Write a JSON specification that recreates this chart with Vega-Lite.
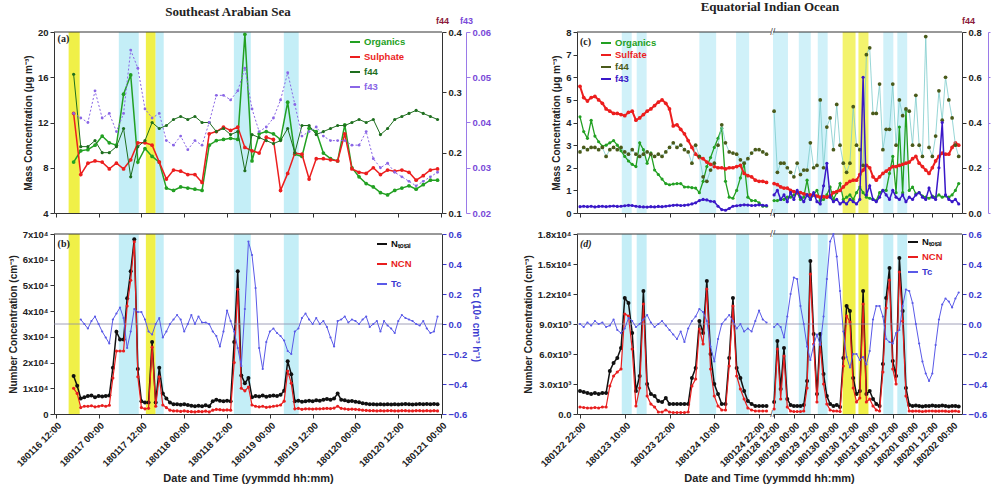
{
"$schema": "https://vega.github.io/schema/vega-lite/v6.json",
"padding": {"left": 8, "top": 1, "right": 0, "bottom": 0},
"config": {
  "font": "Liberation Sans",
  "view": {"stroke": null},
  "axis": {"grid": false, "labelFontSize": 9.5, "labelFontWeight": "bold", "labelColor": "#222", "titleFontSize": 10, "titleFontWeight": "bold", "titleColor": "#222", "domainColor": "#333", "tickColor": "#333", "tickSize": 4, "labelPadding": 2, "titlePadding": 4, "labelOverlap": false},
  "legend": {"labelFontSize": 9.5, "labelFontWeight": "bold", "symbolType": "stroke", "symbolStrokeWidth": 2, "symbolSize": 100, "padding": 0, "labelLimit": 200, "labelOffset": 3, "title": null},
  "title": {"font": "Liberation Serif", "fontSize": 13, "fontWeight": "bold", "color": "#222", "offset": -3}
},
"datasets": {
"bandsA": [
{"a":"2018-01-16T15:36","b":"2018-01-16T18:42","k":"y"},
{"a":"2018-01-17T05:40","b":"2018-01-17T11:15","k":"c"},
{"a":"2018-01-17T13:15","b":"2018-01-17T16:00","k":"y"},
{"a":"2018-01-17T16:00","b":"2018-01-17T18:15","k":"c"},
{"a":"2018-01-18T13:55","b":"2018-01-18T18:40","k":"c"},
{"a":"2018-01-19T03:55","b":"2018-01-19T08:05","k":"c"}],
"bandsCL": [
{"a":"2018-01-23T09:12","b":"2018-01-23T11:52","k":"c"},
{"a":"2018-01-23T13:12","b":"2018-01-23T15:52","k":"c"},
{"a":"2018-01-24T06:00","b":"2018-01-24T10:30","k":"c"},
{"a":"2018-01-24T15:50","b":"2018-01-24T19:20","k":"c"}],
"bandsCR": [
{"a":"2018-01-28T11:20","b":"2018-01-28T20:24","k":"c"},
{"a":"2018-01-29T03:00","b":"2018-01-29T10:15","k":"c"},
{"a":"2018-01-29T14:30","b":"2018-01-29T20:30","k":"c"},
{"a":"2018-01-30T05:35","b":"2018-01-30T13:25","k":"y"},
{"a":"2018-01-30T15:10","b":"2018-01-30T21:15","k":"y"},
{"a":"2018-01-31T06:15","b":"2018-01-31T12:20","k":"c"},
{"a":"2018-01-31T14:45","b":"2018-01-31T20:45","k":"c"}],
"sea": [
{"t":"2018-01-16T17:00","Org":8.5,"Sul":12.8,"f44":0.33,"f43":0.042},
{"t":"2018-01-16T19:00","Org":9.5,"Sul":7.4,"f44":0.21,"f43":0.041},
{"t":"2018-01-16T21:00","Org":9.6,"Sul":8.4,"f44":0.21,"f43":0.040},
{"t":"2018-01-16T23:00","Org":10.0,"Sul":8.6,"f44":0.22,"f43":0.047},
{"t":"2018-01-17T01:00","Org":10.8,"Sul":8.5,"f44":0.20,"f43":0.041},
{"t":"2018-01-17T03:00","Org":10.2,"Sul":7.9,"f44":0.20,"f43":0.042},
{"t":"2018-01-17T05:00","Org":10.0,"Sul":8.4,"f44":0.21,"f43":0.038},
{"t":"2018-01-17T07:00","Org":14.5,"Sul":7.9,"f44":0.24,"f43":0.042},
{"t":"2018-01-17T09:00","Org":16.2,"Sul":8.7,"f44":0.16,"f43":0.056},
{"t":"2018-01-17T11:00","Org":8.5,"Sul":10.2,"f44":0.21,"f43":0.052},
{"t":"2018-01-17T13:00","Org":9.7,"Sul":10.2,"f44":0.22,"f43":0.043},
{"t":"2018-01-17T15:00","Org":9.0,"Sul":10.0,"f44":0.25,"f43":0.041},
{"t":"2018-01-17T17:00","Org":8.5,"Sul":8.5,"f44":0.24,"f43":0.042},
{"t":"2018-01-17T19:00","Org":6.2,"Sul":7.0,"f44":0.245,"f43":0.036},
{"t":"2018-01-17T21:00","Org":6.0,"Sul":7.8,"f44":0.255,"f43":0.035},
{"t":"2018-01-17T23:00","Org":6.3,"Sul":7.7,"f44":0.26,"f43":0.037},
{"t":"2018-01-18T01:00","Org":6.2,"Sul":7.4,"f44":0.255,"f43":0.034},
{"t":"2018-01-18T03:00","Org":6.1,"Sul":7.4,"f44":0.26,"f43":0.036},
{"t":"2018-01-18T05:00","Org":6.0,"Sul":6.7,"f44":0.25,"f43":0.035},
{"t":"2018-01-18T07:00","Org":10.0,"Sul":11.0,"f44":0.25,"f43":0.040},
{"t":"2018-01-18T09:00","Org":10.4,"Sul":11.2,"f44":0.235,"f43":0.046},
{"t":"2018-01-18T11:00","Org":10.5,"Sul":11.6,"f44":0.24,"f43":0.046},
{"t":"2018-01-18T13:00","Org":10.6,"Sul":11.3,"f44":0.23,"f43":0.045},
{"t":"2018-01-18T15:00","Org":10.5,"Sul":11.6,"f44":0.235,"f43":0.047},
{"t":"2018-01-18T17:00","Org":19.8,"Sul":9.8,"f44":0.17,"f43":0.052},
{"t":"2018-01-18T19:00","Org":8.6,"Sul":9.5,"f44":0.23,"f43":0.043},
{"t":"2018-01-18T21:00","Org":11.0,"Sul":9.3,"f44":0.225,"f43":0.038},
{"t":"2018-01-18T23:00","Org":11.2,"Sul":10.7,"f44":0.22,"f43":0.039},
{"t":"2018-01-19T01:00","Org":11.0,"Sul":10.5,"f44":0.215,"f43":0.041},
{"t":"2018-01-19T03:00","Org":10.5,"Sul":6.0,"f44":0.22,"f43":0.045},
{"t":"2018-01-19T05:00","Org":13.8,"Sul":7.5,"f44":0.24,"f43":0.051},
{"t":"2018-01-19T07:00","Org":9.2,"Sul":9.3,"f44":0.20,"f43":0.044},
{"t":"2018-01-19T09:00","Org":9.0,"Sul":9.2,"f44":0.245,"f43":0.037},
{"t":"2018-01-19T11:00","Org":11.5,"Sul":7.0,"f44":0.245,"f43":0.038},
{"t":"2018-01-19T13:00","Org":11.2,"Sul":8.8,"f44":0.23,"f43":0.039},
{"t":"2018-01-19T15:00","Org":9.3,"Sul":8.8,"f44":0.235,"f43":0.037},
{"t":"2018-01-19T17:00","Org":8.8,"Sul":8.7,"f44":0.24,"f43":0.036},
{"t":"2018-01-19T19:00","Org":8.6,"Sul":8.6,"f44":0.245,"f43":0.036},
{"t":"2018-01-19T21:00","Org":11.8,"Sul":11.0,"f44":0.245,"f43":0.036},
{"t":"2018-01-19T23:00","Org":8.0,"Sul":7.9,"f44":0.25,"f43":0.035},
{"t":"2018-01-20T01:00","Org":7.2,"Sul":7.6,"f44":0.255,"f43":0.035},
{"t":"2018-01-20T03:00","Org":6.6,"Sul":7.5,"f44":0.25,"f43":0.038},
{"t":"2018-01-20T05:00","Org":6.3,"Sul":8.0,"f44":0.255,"f43":0.032},
{"t":"2018-01-20T07:00","Org":5.8,"Sul":7.4,"f44":0.23,"f43":0.030},
{"t":"2018-01-20T09:00","Org":5.6,"Sul":7.8,"f44":0.24,"f43":0.031},
{"t":"2018-01-20T11:00","Org":6.0,"Sul":7.7,"f44":0.255,"f43":0.029},
{"t":"2018-01-20T13:00","Org":6.2,"Sul":7.8,"f44":0.26,"f43":0.028},
{"t":"2018-01-20T15:00","Org":6.4,"Sul":7.6,"f44":0.265,"f43":0.027},
{"t":"2018-01-20T17:00","Org":6.1,"Sul":6.9,"f44":0.27,"f43":0.026},
{"t":"2018-01-20T19:00","Org":6.5,"Sul":7.3,"f44":0.265,"f43":0.027},
{"t":"2018-01-20T21:00","Org":6.9,"Sul":7.8,"f44":0.26,"f43":0.028},
{"t":"2018-01-20T23:00","Org":6.9,"Sul":7.9,"f44":0.255,"f43":0.029}],
"seaB": [
{"t":"2018-01-16T17:00","Nt":14800,"Ncn":10000},
{"t":"2018-01-16T18:00","Nt":11000,"Ncn":8000},
{"t":"2018-01-16T19:00","Nt":6000,"Ncn":2500,"Tc":0.03},
{"t":"2018-01-16T20:00","Nt":6500,"Ncn":3000,"Tc":0.0},
{"t":"2018-01-16T21:00","Nt":7000,"Ncn":3000,"Tc":-0.03},
{"t":"2018-01-16T22:00","Nt":7200,"Ncn":3200,"Tc":0.02},
{"t":"2018-01-16T23:00","Nt":6500,"Ncn":2800,"Tc":0.05},
{"t":"2018-01-17T00:00","Nt":7000,"Ncn":3000,"Tc":0.0},
{"t":"2018-01-17T01:00","Nt":6800,"Ncn":3300,"Tc":-0.05},
{"t":"2018-01-17T02:00","Nt":7000,"Ncn":3000,"Tc":-0.09},
{"t":"2018-01-17T03:00","Nt":7200,"Ncn":3400,"Tc":-0.13},
{"t":"2018-01-17T04:00","Nt":18000,"Ncn":14000,"Tc":0.03},
{"t":"2018-01-17T05:00","Nt":32000,"Ncn":24500,"Tc":0.07},
{"t":"2018-01-17T06:00","Nt":29000,"Ncn":24500,"Tc":0.11},
{"t":"2018-01-17T07:00","Nt":29000,"Ncn":24500,"Tc":0.04},
{"t":"2018-01-17T08:00","Nt":45000,"Ncn":42000,"Tc":-0.16},
{"t":"2018-01-17T09:00","Nt":55500,"Ncn":52000,"Tc":-0.05},
{"t":"2018-01-17T10:00","Nt":68000,"Ncn":67000,"Tc":0.1},
{"t":"2018-01-17T11:00","Nt":17500,"Ncn":14500,"Tc":0.08},
{"t":"2018-01-17T12:00","Nt":5000,"Ncn":2500,"Tc":0.08},
{"t":"2018-01-17T13:00","Nt":4500,"Ncn":2000,"Tc":0.03},
{"t":"2018-01-17T14:00","Nt":4500,"Ncn":2200,"Tc":-0.05},
{"t":"2018-01-17T15:00","Nt":28000,"Ncn":26000,"Tc":-0.07},
{"t":"2018-01-17T16:00","Nt":4500,"Ncn":3000,"Tc":0.0},
{"t":"2018-01-17T17:00","Nt":18000,"Ncn":14500,"Tc":0.04},
{"t":"2018-01-17T18:00","Nt":8000,"Ncn":3500,"Tc":-0.09},
{"t":"2018-01-17T19:00","Nt":6000,"Ncn":2500,"Tc":-0.05},
{"t":"2018-01-17T20:00","Nt":4500,"Ncn":1500,"Tc":0.0},
{"t":"2018-01-17T21:00","Nt":3800,"Ncn":1200,"Tc":0.03},
{"t":"2018-01-17T22:00","Nt":3800,"Ncn":1200,"Tc":0.06},
{"t":"2018-01-17T23:00","Nt":3600,"Ncn":1000,"Tc":0.03},
{"t":"2018-01-18T00:00","Nt":3800,"Ncn":1200,"Tc":-0.05},
{"t":"2018-01-18T01:00","Nt":3500,"Ncn":1000,"Tc":0.0},
{"t":"2018-01-18T02:00","Nt":3200,"Ncn":900,"Tc":0.06},
{"t":"2018-01-18T03:00","Nt":3000,"Ncn":800,"Tc":0.0},
{"t":"2018-01-18T04:00","Nt":3200,"Ncn":1000,"Tc":0.05},
{"t":"2018-01-18T05:00","Nt":3000,"Ncn":900,"Tc":0.01},
{"t":"2018-01-18T06:00","Nt":3400,"Ncn":1100,"Tc":0.01},
{"t":"2018-01-18T07:00","Nt":3000,"Ncn":800,"Tc":0.0},
{"t":"2018-01-18T08:00","Nt":5000,"Ncn":1500,"Tc":-0.05},
{"t":"2018-01-18T09:00","Nt":5500,"Ncn":1800,"Tc":-0.08},
{"t":"2018-01-18T10:00","Nt":5200,"Ncn":1700,"Tc":-0.15},
{"t":"2018-01-18T11:00","Nt":5000,"Ncn":1500,"Tc":-0.05},
{"t":"2018-01-18T12:00","Nt":5200,"Ncn":1600,"Tc":0.09},
{"t":"2018-01-18T13:00","Nt":5000,"Ncn":1500,"Tc":0.02},
{"t":"2018-01-18T14:00","Nt":28000,"Ncn":20000,"Tc":-0.05},
{"t":"2018-01-18T15:00","Nt":55500,"Ncn":48500,"Tc":-0.16},
{"t":"2018-01-18T16:00","Nt":15000,"Ncn":10000,"Tc":-0.28},
{"t":"2018-01-18T17:00","Nt":12000,"Ncn":9000,"Tc":0.1},
{"t":"2018-01-18T18:00","Nt":14000,"Ncn":10500,"Tc":0.55},
{"t":"2018-01-18T19:00","Nt":6500,"Ncn":3500,"Tc":0.46},
{"t":"2018-01-18T20:00","Nt":7000,"Ncn":3000,"Tc":0.24},
{"t":"2018-01-18T21:00","Nt":6800,"Ncn":2800,"Tc":-0.16},
{"t":"2018-01-18T22:00","Nt":7200,"Ncn":3000,"Tc":-0.3},
{"t":"2018-01-18T23:00","Nt":6700,"Ncn":2600,"Tc":-0.12},
{"t":"2018-01-19T00:00","Nt":7000,"Ncn":2800,"Tc":-0.05},
{"t":"2018-01-19T01:00","Nt":7200,"Ncn":3000,"Tc":-0.03},
{"t":"2018-01-19T02:00","Nt":7000,"Ncn":3200,"Tc":-0.06},
{"t":"2018-01-19T03:00","Nt":7500,"Ncn":3500,"Tc":-0.08},
{"t":"2018-01-19T04:00","Nt":9000,"Ncn":5000,"Tc":-0.11},
{"t":"2018-01-19T05:00","Nt":20500,"Ncn":16700,"Tc":-0.18},
{"t":"2018-01-19T06:00","Nt":15500,"Ncn":12000,"Tc":-0.2},
{"t":"2018-01-19T07:00","Nt":5000,"Ncn":2000,"Tc":-0.05},
{"t":"2018-01-19T08:00","Nt":5200,"Ncn":2200,"Tc":-0.03},
{"t":"2018-01-19T09:00","Nt":4800,"Ncn":1800,"Tc":0.04},
{"t":"2018-01-19T10:00","Nt":5000,"Ncn":2000,"Tc":0.07},
{"t":"2018-01-19T11:00","Nt":5200,"Ncn":2000,"Tc":0.03},
{"t":"2018-01-19T12:00","Nt":5000,"Ncn":1900,"Tc":0.0},
{"t":"2018-01-19T13:00","Nt":5300,"Ncn":2000,"Tc":0.04},
{"t":"2018-01-19T14:00","Nt":5200,"Ncn":2000,"Tc":0.0},
{"t":"2018-01-19T15:00","Nt":5500,"Ncn":2100,"Tc":0.02},
{"t":"2018-01-19T16:00","Nt":5800,"Ncn":2200,"Tc":-0.02},
{"t":"2018-01-19T17:00","Nt":5500,"Ncn":2100,"Tc":-0.09},
{"t":"2018-01-19T18:00","Nt":6000,"Ncn":2300,"Tc":-0.15},
{"t":"2018-01-19T19:00","Nt":8000,"Ncn":3000,"Tc":0.02},
{"t":"2018-01-19T20:00","Nt":5500,"Ncn":2200,"Tc":0.03},
{"t":"2018-01-19T21:00","Nt":5300,"Ncn":2000,"Tc":0.05},
{"t":"2018-01-19T22:00","Nt":5000,"Ncn":1800,"Tc":0.01},
{"t":"2018-01-19T23:00","Nt":5100,"Ncn":1900,"Tc":0.03},
{"t":"2018-01-20T00:00","Nt":4800,"Ncn":1800,"Tc":0.02},
{"t":"2018-01-20T01:00","Nt":4600,"Ncn":1700,"Tc":0.0},
{"t":"2018-01-20T02:00","Nt":4200,"Ncn":1500,"Tc":0.03},
{"t":"2018-01-20T03:00","Nt":4000,"Ncn":1400,"Tc":0.05},
{"t":"2018-01-20T04:00","Nt":3800,"Ncn":1300,"Tc":-0.02},
{"t":"2018-01-20T05:00","Nt":3800,"Ncn":1300,"Tc":0.0},
{"t":"2018-01-20T06:00","Nt":3700,"Ncn":1200,"Tc":0.02},
{"t":"2018-01-20T07:00","Nt":3800,"Ncn":1300,"Tc":-0.05},
{"t":"2018-01-20T08:00","Nt":3700,"Ncn":1200,"Tc":0.02},
{"t":"2018-01-20T09:00","Nt":3800,"Ncn":1300,"Tc":-0.01},
{"t":"2018-01-20T10:00","Nt":3700,"Ncn":1300,"Tc":-0.03},
{"t":"2018-01-20T11:00","Nt":3800,"Ncn":1200,"Tc":-0.06},
{"t":"2018-01-20T12:00","Nt":3700,"Ncn":1200,"Tc":0.02},
{"t":"2018-01-20T13:00","Nt":3800,"Ncn":1300,"Tc":0.06},
{"t":"2018-01-20T14:00","Nt":3900,"Ncn":1300,"Tc":0.04},
{"t":"2018-01-20T15:00","Nt":3800,"Ncn":1200,"Tc":0.03},
{"t":"2018-01-20T16:00","Nt":3700,"Ncn":1200,"Tc":0.02},
{"t":"2018-01-20T17:00","Nt":3800,"Ncn":1300,"Tc":0.0},
{"t":"2018-01-20T18:00","Nt":3900,"Ncn":1300,"Tc":-0.01},
{"t":"2018-01-20T19:00","Nt":3800,"Ncn":1200,"Tc":0.02},
{"t":"2018-01-20T20:00","Nt":3900,"Ncn":1300,"Tc":-0.03},
{"t":"2018-01-20T21:00","Nt":3800,"Ncn":1200,"Tc":-0.06},
{"t":"2018-01-20T22:00","Nt":3900,"Ncn":1300,"Tc":-0.05},
{"t":"2018-01-20T23:00","Nt":3800,"Ncn":1200,"Tc":0.05}],
"eqL": [
{"t":"2018-01-22T22:00","Org":4.25,"Sul":5.6,"f44":0.27,"f43":0.0028,"Nt":2300,"Ncn":700,"Tc":0.0},
{"t":"2018-01-22T23:00","Org":3.6,"Sul":5.1,"f44":0.29,"f43":0.003,"Nt":2200,"Ncn":650,"Tc":-0.02},
{"t":"2018-01-23T00:00","Org":3.3,"Sul":4.95,"f44":0.28,"f43":0.0028,"Nt":2100,"Ncn":600,"Tc":0.01},
{"t":"2018-01-23T01:00","Org":4.1,"Sul":5.1,"f44":0.29,"f43":0.003,"Nt":2000,"Ncn":600,"Tc":-0.01},
{"t":"2018-01-23T02:00","Org":3.4,"Sul":5.15,"f44":0.29,"f43":0.0027,"Nt":2100,"Ncn":650,"Tc":0.02},
{"t":"2018-01-23T03:00","Org":3.15,"Sul":5.0,"f44":0.28,"f43":0.0029,"Nt":2000,"Ncn":600,"Tc":0.0},
{"t":"2018-01-23T04:00","Org":2.95,"Sul":4.85,"f44":0.29,"f43":0.003,"Nt":2100,"Ncn":700,"Tc":0.01},
{"t":"2018-01-23T05:00","Org":3.0,"Sul":4.6,"f44":0.25,"f43":0.0028,"Nt":2100,"Ncn":700,"Tc":-0.02},
{"t":"2018-01-23T06:00","Org":3.1,"Sul":4.5,"f44":0.28,"f43":0.003,"Nt":4300,"Ncn":2800,"Tc":-0.01},
{"t":"2018-01-23T07:00","Org":3.2,"Sul":4.4,"f44":0.29,"f43":0.0031,"Nt":5100,"Ncn":3800,"Tc":0.03},
{"t":"2018-01-23T08:00","Org":3.0,"Sul":4.4,"f44":0.28,"f43":0.0029,"Nt":5600,"Ncn":4200,"Tc":-0.04},
{"t":"2018-01-23T09:00","Org":2.75,"Sul":4.35,"f44":0.29,"f43":0.003,"Nt":6600,"Ncn":4500,"Tc":-0.06},
{"t":"2018-01-23T10:00","Org":2.5,"Sul":4.3,"f44":0.27,"f43":0.0032,"Nt":11600,"Ncn":10000,"Tc":-0.03},
{"t":"2018-01-23T11:00","Org":2.3,"Sul":4.45,"f44":0.26,"f43":0.0034,"Nt":11100,"Ncn":9800,"Tc":0.04},
{"t":"2018-01-23T12:00","Org":2.15,"Sul":4.5,"f44":0.28,"f43":0.0033,"Nt":8100,"Ncn":6500,"Tc":0.02},
{"t":"2018-01-23T13:00","Org":2.05,"Sul":4.1,"f44":0.26,"f43":0.003,"Nt":2300,"Ncn":800,"Tc":-0.02},
{"t":"2018-01-23T14:00","Org":3.1,"Sul":4.2,"f44":0.25,"f43":0.0028,"Nt":3800,"Ncn":2600,"Tc":0.0},
{"t":"2018-01-23T15:00","Org":2.8,"Sul":4.35,"f44":0.26,"f43":0.0027,"Nt":12300,"Ncn":11000,"Tc":0.03},
{"t":"2018-01-23T16:00","Org":2.2,"Sul":4.5,"f44":0.27,"f43":0.0026,"Nt":3000,"Ncn":1800,"Tc":0.06},
{"t":"2018-01-23T17:00","Org":2.65,"Sul":4.6,"f44":0.26,"f43":0.0028,"Nt":2000,"Ncn":1000,"Tc":0.01},
{"t":"2018-01-23T18:00","Org":1.9,"Sul":4.75,"f44":0.25,"f43":0.0027,"Nt":1800,"Ncn":700,"Tc":-0.02},
{"t":"2018-01-23T19:00","Org":1.7,"Sul":4.9,"f44":0.26,"f43":0.0029,"Nt":1300,"Ncn":200,"Tc":0.0},
{"t":"2018-01-23T20:00","Org":1.5,"Sul":5.0,"f44":0.25,"f43":0.0028,"Nt":1200,"Ncn":200,"Tc":0.02},
{"t":"2018-01-23T21:00","Org":1.3,"Sul":4.85,"f44":0.27,"f43":0.003,"Nt":1600,"Ncn":400,"Tc":-0.01},
{"t":"2018-01-23T22:00","Org":1.25,"Sul":4.6,"f44":0.29,"f43":0.0032,"Nt":1000,"Ncn":200,"Tc":-0.04},
{"t":"2018-01-23T23:00","Org":1.28,"Sul":3.85,"f44":0.31,"f43":0.0034,"Nt":1000,"Ncn":150,"Tc":-0.07},
{"t":"2018-01-24T00:00","Org":1.3,"Sul":3.9,"f44":0.29,"f43":0.0035,"Nt":1000,"Ncn":150,"Tc":-0.1},
{"t":"2018-01-24T01:00","Org":1.3,"Sul":3.7,"f44":0.3,"f43":0.0033,"Nt":1000,"Ncn":150,"Tc":-0.05},
{"t":"2018-01-24T02:00","Org":1.15,"Sul":3.5,"f44":0.28,"f43":0.0034,"Nt":1000,"Ncn":150,"Tc":-0.12},
{"t":"2018-01-24T03:00","Org":1.15,"Sul":3.2,"f44":0.27,"f43":0.0036,"Nt":1000,"Ncn":200,"Tc":-0.03},
{"t":"2018-01-24T04:00","Org":1.12,"Sul":2.9,"f44":0.22,"f43":0.004,"Nt":3600,"Ncn":2800,"Tc":0.02},
{"t":"2018-01-24T05:00","Org":1.1,"Sul":2.6,"f44":0.3,"f43":0.0045,"Nt":4600,"Ncn":3500,"Tc":0.05},
{"t":"2018-01-24T06:00","Org":0.9,"Sul":2.45,"f44":0.25,"f43":0.0055,"Nt":9300,"Ncn":8500,"Tc":0.1},
{"t":"2018-01-24T07:00","Org":1.4,"Sul":2.4,"f44":0.16,"f43":0.006,"Nt":8100,"Ncn":7000,"Tc":0.08},
{"t":"2018-01-24T08:00","Org":2.05,"Sul":2.25,"f44":0.14,"f43":0.0058,"Nt":13300,"Ncn":12500,"Tc":0.02},
{"t":"2018-01-24T09:00","Org":2.45,"Sul":2.15,"f44":0.19,"f43":0.0052,"Nt":6000,"Ncn":4500,"Tc":-0.15},
{"t":"2018-01-24T10:00","Org":2.9,"Sul":2.05,"f44":0.22,"f43":0.005,"Nt":3000,"Ncn":1800,"Tc":-0.25},
{"t":"2018-01-24T11:00","Org":3.3,"Sul":2.0,"f44":0.3,"f43":0.003,"Nt":2000,"Ncn":800,"Tc":-0.1},
{"t":"2018-01-24T12:00","Org":3.75,"Sul":2.0,"f44":0.39,"f43":0.0015,"Nt":1000,"Ncn":400,"Tc":0.0},
{"t":"2018-01-24T13:00","Org":1.4,"Sul":1.95,"f44":0.31,"f43":0.0012,"Nt":1000,"Ncn":400,"Tc":0.03},
{"t":"2018-01-24T14:00","Org":0.7,"Sul":2.0,"f44":0.27,"f43":0.002,"Nt":5600,"Ncn":4800,"Tc":0.06},
{"t":"2018-01-24T15:00","Org":0.65,"Sul":2.0,"f44":0.265,"f43":0.003,"Nt":11600,"Ncn":10800,"Tc":0.02},
{"t":"2018-01-24T16:00","Org":1.0,"Sul":2.05,"f44":0.26,"f43":0.0032,"Nt":4600,"Ncn":3800,"Tc":-0.03},
{"t":"2018-01-24T17:00","Org":1.55,"Sul":2.1,"f44":0.235,"f43":0.0034,"Nt":3600,"Ncn":2500,"Tc":0.0},
{"t":"2018-01-24T18:00","Org":2.2,"Sul":1.75,"f44":0.22,"f43":0.0036,"Nt":2300,"Ncn":1500,"Tc":-0.05},
{"t":"2018-01-24T19:00","Org":0.7,"Sul":1.65,"f44":0.24,"f43":0.0035,"Nt":1300,"Ncn":600,"Tc":-0.03},
{"t":"2018-01-24T20:00","Org":0.55,"Sul":1.6,"f44":0.265,"f43":0.0033,"Nt":1000,"Ncn":400,"Tc":-0.05},
{"t":"2018-01-24T21:00","Org":0.55,"Sul":1.45,"f44":0.28,"f43":0.0034,"Nt":800,"Ncn":300,"Tc":0.02},
{"t":"2018-01-24T22:00","Org":0.45,"Sul":1.4,"f44":0.28,"f43":0.0036,"Nt":800,"Ncn":300,"Tc":0.09},
{"t":"2018-01-24T23:00","Org":0.3,"Sul":1.4,"f44":0.27,"f43":0.0034,"Nt":800,"Ncn":300,"Tc":0.03},
{"t":"2018-01-25T00:00","Org":0.3,"Sul":1.35,"f44":0.26,"f43":0.0033,"Nt":800,"Ncn":300,"Tc":0.01}],
"eqR": [
{"t":"2018-01-28T12:00","Org":0.55,"Sul":1.3,"f44":0.45,"f43":0.008,"Nt":1200,"Ncn":500,"Tc":-0.02},
{"t":"2018-01-28T14:00","Org":0.55,"Sul":1.25,"f44":0.18,"f43":0.010,"Nt":7300,"Ncn":6500,"Tc":0.0},
{"t":"2018-01-28T16:00","Org":0.6,"Sul":1.15,"f44":0.22,"f43":0.006,"Nt":2500,"Ncn":1500,"Tc":-0.02},
{"t":"2018-01-28T18:00","Org":0.6,"Sul":1.1,"f44":0.22,"f43":0.008,"Nt":6600,"Ncn":5800,"Tc":-0.09},
{"t":"2018-01-28T20:00","Org":0.7,"Sul":1.1,"f44":0.2,"f43":0.005,"Nt":1500,"Ncn":700,"Tc":0.05},
{"t":"2018-01-28T22:00","Org":0.7,"Sul":1.0,"f44":0.18,"f43":0.009,"Nt":900,"Ncn":300,"Tc":0.2},
{"t":"2018-01-29T00:00","Org":0.8,"Sul":0.95,"f44":0.16,"f43":0.006,"Nt":800,"Ncn":250,"Tc":0.31},
{"t":"2018-01-29T02:00","Org":0.9,"Sul":0.9,"f44":0.22,"f43":0.010,"Nt":800,"Ncn":250,"Tc":0.3},
{"t":"2018-01-29T04:00","Org":0.6,"Sul":0.9,"f44":0.17,"f43":0.007,"Nt":800,"Ncn":250,"Tc":0.12},
{"t":"2018-01-29T06:00","Org":0.7,"Sul":0.85,"f44":0.19,"f43":0.005,"Nt":900,"Ncn":300,"Tc":0.0},
{"t":"2018-01-29T08:00","Org":1.45,"Sul":0.8,"f44":0.19,"f43":0.008,"Nt":3300,"Ncn":2600,"Tc":-0.15},
{"t":"2018-01-29T10:00","Org":0.6,"Sul":0.8,"f44":0.31,"f43":0.006,"Nt":15300,"Ncn":14000,"Tc":-0.24},
{"t":"2018-01-29T12:00","Org":0.8,"Sul":0.8,"f44":0.2,"f43":0.009,"Nt":8000,"Ncn":7000,"Tc":-0.14},
{"t":"2018-01-29T14:00","Org":1.0,"Sul":0.75,"f44":0.21,"f43":0.005,"Nt":2000,"Ncn":1200,"Tc":-0.07},
{"t":"2018-01-29T16:00","Org":0.55,"Sul":0.7,"f44":0.5,"f43":0.004,"Nt":8000,"Ncn":7000,"Tc":-0.14},
{"t":"2018-01-29T18:00","Org":0.6,"Sul":0.72,"f44":0.2,"f43":0.012,"Nt":4000,"Ncn":3000,"Tc":0.05},
{"t":"2018-01-29T20:00","Org":0.8,"Sul":0.7,"f44":0.38,"f43":0.022,"Nt":1800,"Ncn":1000,"Tc":0.3},
{"t":"2018-01-29T22:00","Org":1.15,"Sul":0.75,"f44":0.42,"f43":0.007,"Nt":1000,"Ncn":400,"Tc":0.55},
{"t":"2018-01-30T00:00","Org":0.6,"Sul":0.9,"f44":0.28,"f43":0.005,"Nt":800,"Ncn":300,"Tc":0.6},
{"t":"2018-01-30T02:00","Org":0.9,"Sul":0.95,"f44":0.48,"f43":0.006,"Nt":900,"Ncn":300,"Tc":0.45},
{"t":"2018-01-30T04:00","Org":1.3,"Sul":1.0,"f44":0.3,"f43":0.004,"Nt":700,"Ncn":250,"Tc":0.22},
{"t":"2018-01-30T06:00","Org":0.6,"Sul":1.15,"f44":0.22,"f43":0.005,"Nt":5600,"Ncn":4800,"Tc":-0.05},
{"t":"2018-01-30T08:00","Org":0.7,"Sul":1.3,"f44":0.18,"f43":0.004,"Nt":10800,"Ncn":9800,"Tc":-0.22},
{"t":"2018-01-30T10:00","Org":0.8,"Sul":1.4,"f44":0.22,"f43":0.006,"Nt":10300,"Ncn":9200,"Tc":-0.29},
{"t":"2018-01-30T12:00","Org":0.6,"Sul":1.45,"f44":0.47,"f43":0.005,"Nt":3600,"Ncn":2600,"Tc":-0.2},
{"t":"2018-01-30T14:00","Org":0.9,"Sul":1.45,"f44":0.3,"f43":0.004,"Nt":2000,"Ncn":1200,"Tc":-0.2},
{"t":"2018-01-30T16:00","Org":1.15,"Sul":1.7,"f44":0.28,"f43":0.006,"Nt":2300,"Ncn":1600,"Tc":-0.24},
{"t":"2018-01-30T18:00","Org":0.9,"Sul":1.9,"f44":0.21,"f43":0.06,"Nt":12300,"Ncn":11000,"Tc":-0.22},
{"t":"2018-01-30T20:00","Org":0.7,"Sul":2.1,"f44":0.7,"f43":0.008,"Nt":2000,"Ncn":1200,"Tc":-0.27},
{"t":"2018-01-30T22:00","Org":0.65,"Sul":2.0,"f44":0.73,"f43":0.012,"Nt":2300,"Ncn":1500,"Tc":-0.18},
{"t":"2018-01-31T00:00","Org":0.6,"Sul":1.6,"f44":0.44,"f43":0.006,"Nt":1500,"Ncn":800,"Tc":0.03},
{"t":"2018-01-31T02:00","Org":0.55,"Sul":1.45,"f44":0.44,"f43":0.005,"Nt":1000,"Ncn":400,"Tc":0.12},
{"t":"2018-01-31T04:00","Org":0.9,"Sul":1.6,"f44":0.57,"f43":0.007,"Nt":800,"Ncn":300,"Tc":0.12},
{"t":"2018-01-31T06:00","Org":1.0,"Sul":1.75,"f44":0.28,"f43":0.010,"Nt":5000,"Ncn":4200,"Tc":0.05},
{"t":"2018-01-31T08:00","Org":1.0,"Sul":1.85,"f44":0.37,"f43":0.008,"Nt":11600,"Ncn":10600,"Tc":-0.1},
{"t":"2018-01-31T10:00","Org":1.75,"Sul":1.95,"f44":0.37,"f43":0.006,"Nt":14600,"Ncn":13400,"Tc":-0.12},
{"t":"2018-01-31T12:00","Org":2.5,"Sul":2.05,"f44":0.57,"f43":0.010,"Nt":5300,"Ncn":4500,"Tc":-0.13},
{"t":"2018-01-31T14:00","Org":0.9,"Sul":2.05,"f44":0.3,"f43":0.007,"Nt":3800,"Ncn":3000,"Tc":-0.06},
{"t":"2018-01-31T16:00","Org":3.8,"Sul":2.1,"f44":0.5,"f43":0.006,"Nt":15600,"Ncn":14200,"Tc":-0.04},
{"t":"2018-01-31T18:00","Org":0.9,"Sul":2.15,"f44":0.43,"f43":0.008,"Nt":10300,"Ncn":9300,"Tc":0.12},
{"t":"2018-01-31T20:00","Org":4.55,"Sul":2.2,"f44":0.46,"f43":0.005,"Nt":2600,"Ncn":1800,"Tc":0.23},
{"t":"2018-01-31T22:00","Org":1.0,"Sul":2.25,"f44":0.45,"f43":0.007,"Nt":900,"Ncn":300,"Tc":0.22},
{"t":"2018-02-01T00:00","Org":1.15,"Sul":2.4,"f44":0.3,"f43":0.006,"Nt":800,"Ncn":280,"Tc":0.14},
{"t":"2018-02-01T02:00","Org":0.85,"Sul":2.5,"f44":0.52,"f43":0.008,"Nt":850,"Ncn":300,"Tc":0.0},
{"t":"2018-02-01T04:00","Org":0.9,"Sul":2.2,"f44":0.3,"f43":0.009,"Nt":800,"Ncn":280,"Tc":-0.13},
{"t":"2018-02-01T06:00","Org":0.75,"Sul":2.05,"f44":0.25,"f43":0.007,"Nt":750,"Ncn":250,"Tc":-0.25},
{"t":"2018-02-01T08:00","Org":0.7,"Sul":1.9,"f44":0.78,"f43":0.006,"Nt":800,"Ncn":280,"Tc":-0.33},
{"t":"2018-02-01T10:00","Org":0.65,"Sul":1.75,"f44":0.29,"f43":0.011,"Nt":800,"Ncn":300,"Tc":-0.38},
{"t":"2018-02-01T12:00","Org":0.75,"Sul":2.0,"f44":0.25,"f43":0.007,"Nt":850,"Ncn":300,"Tc":-0.33},
{"t":"2018-02-01T14:00","Org":0.7,"Sul":2.3,"f44":0.34,"f43":0.006,"Nt":800,"Ncn":280,"Tc":-0.14},
{"t":"2018-02-01T16:00","Org":0.8,"Sul":2.5,"f44":0.54,"f43":0.02,"Nt":800,"Ncn":280,"Tc":0.03},
{"t":"2018-02-01T18:00","Org":0.7,"Sul":2.65,"f44":0.41,"f43":0.04,"Nt":850,"Ncn":300,"Tc":0.13},
{"t":"2018-02-01T20:00","Org":0.75,"Sul":2.6,"f44":0.6,"f43":0.008,"Nt":800,"Ncn":280,"Tc":0.17},
{"t":"2018-02-01T22:00","Org":0.7,"Sul":2.6,"f44":0.5,"f43":0.006,"Nt":750,"Ncn":250,"Tc":0.15},
{"t":"2018-02-02T00:00","Org":0.8,"Sul":2.9,"f44":0.42,"f43":0.005,"Nt":800,"Ncn":280,"Tc":0.11},
{"t":"2018-02-02T02:00","Org":1.0,"Sul":3.1,"f44":0.3,"f43":0.006,"Nt":800,"Ncn":300,"Tc":0.17},
{"t":"2018-02-02T04:00","Org":1.3,"Sul":3.0,"f44":0.25,"f43":0.004,"Nt":750,"Ncn":250,"Tc":0.21}]
},
"resolve": {"scale": {"color": "independent"}, "legend": {"color": "independent"}},
"spacing": 32,
"hconcat": [
 {"vconcat": [
  {"width": 388, "height": 181,
   "title": {"text": "Southeast Arabian Sea", "dx": -20},
   "layer": [
    {"layer": [
     {"data": {"name": "bandsA"}, "mark": {"type": "rect"},
      "encoding": {
       "x": {"field": "a", "type": "temporal", "scale": {"domain": [{"year":2018,"month":1,"date":16,"hours":11,"minutes":30},{"year":2018,"month":1,"date":21,"hours":0,"minutes":15}], "nice": false},
             "axis": {"title": null, "labels": false, "tickCount": 30, "values": [{"year":2018,"month":1,"date":16,"hours":12},{"year":2018,"month":1,"date":17,"hours":0},{"year":2018,"month":1,"date":17,"hours":12},{"year":2018,"month":1,"date":18,"hours":0},{"year":2018,"month":1,"date":18,"hours":12},{"year":2018,"month":1,"date":19,"hours":0},{"year":2018,"month":1,"date":19,"hours":12},{"year":2018,"month":1,"date":20,"hours":0},{"year":2018,"month":1,"date":20,"hours":12},{"year":2018,"month":1,"date":21,"hours":0}]}},
       "x2": {"field": "b"},
       "fill": {"field": "k", "type": "nominal", "scale": {"domain": ["y","c"], "range": ["#f0f048","#c4eef7"]}, "legend": null}}},
     {"data": {"values": [{}]}, "mark": {"type": "rule", "color": "#333", "strokeWidth": 1},
      "encoding": {"y": {"datum": 20, "type": "quantitative"}}},
     {"data": {"name": "sea"}, "mark": {"type": "line", "strokeWidth": 1.5, "point": {"filled": true, "size": 14}},
      "encoding": {
       "x": {"field": "t", "type": "temporal"},
       "y": {"field": "Org", "type": "quantitative", "scale": {"domain": [4,20], "nice": false, "zero": false}, "axis": {"title": "Mass Concentration (μg m⁻³)", "values": [4,8,12,16,20], "tickCount": 30, "format": "d"}},
       "color": {"datum": "Organics", "type": "nominal",
        "scale": {"domain": ["Organics","Sulphate","f44","f43"], "range": ["#22a022","#ec1e1e","#1e6e1e","#8a66e6"]},
        "legend": {"orient": "none", "legendX": 295, "legendY": 4, "rowPadding": 4,
          "labelColor": {"expr": "datum.label == 'Organics' ? '#22a022' : datum.label == 'Sulphate' ? '#ec1e1e' : datum.label == 'f44' ? '#1e6e1e' : '#8a66e6'"}}}}},
     {"data": {"name": "sea"}, "mark": {"type": "line", "strokeWidth": 1.5, "point": {"filled": true, "size": 14}},
      "encoding": {"x": {"field": "t", "type": "temporal"}, "y": {"field": "Sul", "type": "quantitative"}, "color": {"datum": "Sulphate", "type": "nominal"}}},
     {"data": {"values": [{}]}, "mark": {"type": "text", "align": "left", "baseline": "middle", "font": "Liberation Serif", "fontWeight": "bold", "fontSize": 10, "color": "#222"},
      "encoding": {"x": {"datum": {"year":2018,"month":1,"date":16,"hours":12,"minutes":30}, "type": "temporal"}, "y": {"datum": 19.4, "type": "quantitative"}, "text": {"value": "(a)"}}}
    ]},
    {"data": {"name": "sea"}, "mark": {"type": "line", "strokeWidth": 1, "point": {"filled": true, "size": 10}},
     "encoding": {
      "x": {"field": "t", "type": "temporal"},
      "y": {"field": "f44", "type": "quantitative", "scale": {"domain": [0.1,0.4], "nice": false, "zero": false},
            "axis": {"orient": "right", "title": "f44", "titleAngle": 0, "titleX": 0, "titleY": -7, "titleAlign": "center", "titleBaseline": "bottom", "titleColor": "#8b1a3a", "titleFontSize": 9, "values": [0.1,0.2,0.3,0.4], "tickCount": 30, "format": ".1f"}},
      "color": {"datum": "f44", "type": "nominal"}}},
    {"data": {"name": "sea"}, "mark": {"type": "line", "strokeWidth": 1, "strokeDash": [2,2], "point": {"filled": true, "size": 8}},
     "encoding": {
      "x": {"field": "t", "type": "temporal"},
      "y": {"field": "f43", "type": "quantitative", "scale": {"domain": [0.02,0.06], "nice": false, "zero": false},
            "axis": {"orient": "right", "offset": 24, "title": "f43", "titleAngle": 0, "titleX": 0, "titleY": -7, "titleAlign": "center", "titleBaseline": "bottom", "titleColor": "#7a4ad8", "titleFontSize": 9, "labelColor": "#7a4ad8", "domainColor": "#9a7ae8", "tickColor": "#9a7ae8", "values": [0.02,0.03,0.04,0.05,0.06], "tickCount": 30, "format": ".2f"}},
      "color": {"datum": "f43", "type": "nominal"}}}
   ],
   "resolve": {"scale": {"y": "independent"}}
  },
  {"width": 388, "height": 180,
   "layer": [
    {"layer": [
     {"data": {"name": "bandsA"}, "mark": {"type": "rect"},
      "encoding": {
       "x": {"field": "a", "type": "temporal", "scale": {"domain": [{"year":2018,"month":1,"date":16,"hours":11,"minutes":30},{"year":2018,"month":1,"date":21,"hours":0,"minutes":15}], "nice": false},
             "axis": {"title": "Date and Time (yymmdd hh:mm)", "titleFontSize": 11, "format": "%y%m%d %H:%M", "labelAngle": -45, "labelFlush": false, "tickCount": 30,
                      "values": [{"year":2018,"month":1,"date":16,"hours":12},{"year":2018,"month":1,"date":17,"hours":0},{"year":2018,"month":1,"date":17,"hours":12},{"year":2018,"month":1,"date":18,"hours":0},{"year":2018,"month":1,"date":18,"hours":12},{"year":2018,"month":1,"date":19,"hours":0},{"year":2018,"month":1,"date":19,"hours":12},{"year":2018,"month":1,"date":20,"hours":0},{"year":2018,"month":1,"date":20,"hours":12},{"year":2018,"month":1,"date":21,"hours":0}]}},
       "x2": {"field": "b"},
       "fill": {"field": "k", "type": "nominal", "scale": {"domain": ["y","c"], "range": ["#f0f048","#c4eef7"]}, "legend": null}}},
     {"data": {"values": [{}]}, "mark": {"type": "rule", "color": "#333", "strokeWidth": 1},
      "encoding": {"y": {"datum": 70000, "type": "quantitative"}}},
     {"data": {"name": "seaB"}, "mark": {"type": "line", "strokeWidth": 1.5, "point": {"filled": true, "size": 16}},
      "encoding": {
       "x": {"field": "t", "type": "temporal"},
       "y": {"field": "Nt", "type": "quantitative", "scale": {"domain": [0,70000], "nice": false},
             "axis": {"title": "Number Concentration (cm⁻³)", "values": [0,10000,20000,30000,40000,50000,60000,70000], "tickCount": 30, "labelExpr": "datum.value == 0 ? '0' : format(datum.value/10000, 'd') + 'x10⁴'"}},
       "color": {"datum": "Nₜₒₜₐₗ", "type": "nominal",
        "scale": {"domain": ["Nₜₒₜₐₗ","NCN","Tc"], "range": ["#111111","#e81e1e","#5a5ae8"]},
        "legend": {"orient": "none", "legendX": 322, "legendY": 4, "rowPadding": 9,
          "labelColor": {"expr": "datum.label == 'NCN' ? '#e81e1e' : datum.label == 'Tc' ? '#3a3ad0' : '#111111'"}}}}},
     {"data": {"name": "seaB"}, "mark": {"type": "line", "strokeWidth": 1.2, "point": {"filled": true, "size": 10}},
      "encoding": {"x": {"field": "t", "type": "temporal"}, "y": {"field": "Ncn", "type": "quantitative"}, "color": {"datum": "NCN", "type": "nominal"}}},
     {"data": {"values": [{}]}, "mark": {"type": "text", "align": "left", "baseline": "middle", "font": "Liberation Serif", "fontWeight": "bold", "fontSize": 10, "color": "#222"},
      "encoding": {"x": {"datum": {"year":2018,"month":1,"date":16,"hours":12,"minutes":30}, "type": "temporal"}, "y": {"datum": 66000, "type": "quantitative"}, "text": {"value": "(b)"}}}
    ]},
    {"layer": [
     {"data": {"values": [{}]}, "mark": {"type": "rule", "color": "#8a8aa8", "strokeWidth": 0.8},
      "encoding": {"y": {"datum": 0, "type": "quantitative", "scale": {"domain": [-0.6,0.6], "nice": false, "zero": false},
        "axis": {"orient": "right", "title": "Tc (10⁴ cm⁻³ h⁻¹)", "titleColor": "#3a3ad0", "labelColor": "#3a3ad0", "tickColor": "#3a3ad0", "values": [-0.6,-0.4,-0.2,0,0.2,0.4,0.6], "tickCount": 30, "format": ".1f"}}}},
     {"data": {"name": "seaB"}, "mark": {"type": "line", "strokeWidth": 1, "point": {"filled": true, "size": 5}},
      "encoding": {"x": {"field": "t", "type": "temporal"}, "y": {"field": "Tc", "type": "quantitative"}, "color": {"datum": "Tc", "type": "nominal"}}}
    ]}
   ],
   "resolve": {"scale": {"y": "independent"}}
  }
 ], "spacing": 11, "resolve": {"scale": {"color": "independent"}, "legend": {"color": "independent"}}},
 {"vconcat": [
  {"bounds": "flush", "spacing": 2,
   "resolve": {"scale": {"color": "independent"}, "legend": {"color": "independent"}},
   "hconcat": [
    {"width": 194, "height": 181,
     "title": {"text": "Equatorial Indian Ocean", "dx": 96, "offset": 13},
     "layer": [
      {"layer": [
       {"data": {"name": "bandsCL"}, "mark": {"type": "rect", "opacity": 0.8},
        "encoding": {
         "x": {"field": "a", "type": "temporal",
               "scale": {"domain": [{"year":2018,"month":1,"date":22,"hours":21,"minutes":12},{"year":2018,"month":1,"date":25,"hours":1,"minutes":12}], "nice": false},
               "axis": {"title": null, "labels": false, "tickCount": 30, "values": [{"year":2018,"month":1,"date":22,"hours":22},{"year":2018,"month":1,"date":23,"hours":10},{"year":2018,"month":1,"date":23,"hours":22},{"year":2018,"month":1,"date":24,"hours":10},{"year":2018,"month":1,"date":24,"hours":22}]}},
         "x2": {"field": "b"},
         "fill": {"field": "k", "type": "nominal", "scale": {"domain": ["y","c"], "range": ["#f0f048","#c4eef7"]}, "legend": null}}},
       {"data": {"values": [{}]}, "mark": {"type": "rule", "color": "#333", "strokeWidth": 1},
        "encoding": {"y": {"datum": 8, "type": "quantitative"}}},
       {"data": {"name": "eqL"}, "mark": {"type": "line", "strokeWidth": 1.3, "point": {"filled": true, "size": 10}},
        "encoding": {
         "x": {"field": "t", "type": "temporal"},
         "y": {"field": "Org", "type": "quantitative", "scale": {"domain": [0,8], "nice": false}, "axis": {"title": "Mass Concentration (μg m⁻³)", "values": [0,1,2,3,4,5,6,7,8], "tickCount": 30, "format": "d"}},
         "color": {"datum": "Organics", "type": "nominal",
          "scale": {"domain": ["Organics","Sulfate","f44","f43"], "range": ["#22a022","#ec1e1e","#4a5a1a","#3a18c8"]},
          "legend": {"orient": "none", "legendX": 23, "legendY": 5, "rowPadding": 1,
            "labelColor": {"expr": "datum.label == 'Organics' ? '#22a022' : datum.label == 'Sulfate' ? '#ec1e1e' : datum.label == 'f44' ? '#4a5a1a' : '#3a18c8'"}}}}},
       {"data": {"name": "eqL"}, "mark": {"type": "line", "strokeWidth": 2, "point": {"filled": true, "size": 14}},
        "encoding": {"x": {"field": "t", "type": "temporal"}, "y": {"field": "Sul", "type": "quantitative"}, "color": {"datum": "Sulfate", "type": "nominal"}}},
       {"data": {"values": [{}]}, "mark": {"type": "text", "align": "left", "baseline": "middle", "font": "Liberation Serif", "fontWeight": "bold", "fontSize": 10, "color": "#222"},
        "encoding": {"x": {"datum": {"year":2018,"month":1,"date":22,"hours":22,"minutes":0}, "type": "temporal"}, "y": {"datum": 7.55, "type": "quantitative"}, "text": {"value": "(c)"}}},
       {"data": {"values": [{}]}, "mark": {"type": "text", "align": "center", "baseline": "middle", "fontSize": 9, "color": "#444"},
        "encoding": {"x": {"datum": {"year":2018,"month":1,"date":25,"hours":1,"minutes":40}, "type": "temporal"}, "y": {"datum": 8, "type": "quantitative"}, "text": {"value": "//"}}},
       {"data": {"values": [{}]}, "mark": {"type": "text", "align": "center", "baseline": "middle", "fontSize": 9, "color": "#444"},
        "encoding": {"x": {"datum": {"year":2018,"month":1,"date":25,"hours":1,"minutes":40}, "type": "temporal"}, "y": {"datum": 0, "type": "quantitative"}, "text": {"value": "//"}}}
      ]},
      {"layer": [
       {"data": {"name": "eqL"}, "mark": {"type": "line", "strokeWidth": 0.8, "color": "#7ccccc"},
        "encoding": {"x": {"field": "t", "type": "temporal"}, "y": {"field": "f44", "type": "quantitative", "scale": {"domain": [0,0.8], "nice": false}, "axis": null}}},
       {"data": {"name": "eqL"}, "mark": {"type": "point", "filled": true, "size": 14, "opacity": 1},
        "encoding": {"x": {"field": "t", "type": "temporal"}, "y": {"field": "f44", "type": "quantitative", "axis": null}, "color": {"datum": "f44", "type": "nominal"}}}
      ]},
      {"data": {"name": "eqL"}, "mark": {"type": "line", "strokeWidth": 1.5, "point": {"filled": true, "size": 10}},
       "encoding": {"x": {"field": "t", "type": "temporal"}, "y": {"field": "f43", "type": "quantitative", "scale": {"domain": [0,0.08], "nice": false}, "axis": null}, "color": {"datum": "f43", "type": "nominal"}}}
     ],
     "resolve": {"scale": {"y": "independent"}}
    },
    {"width": 189, "height": 181,
     "layer": [
      {"layer": [
       {"data": {"name": "bandsCR"}, "mark": {"type": "rect", "opacity": 0.8},
        "encoding": {
         "x": {"field": "a", "type": "temporal",
               "scale": {"domain": [{"year":2018,"month":1,"date":28,"hours":11,"minutes":20},{"year":2018,"month":2,"date":2,"hours":6,"minutes":0}], "nice": false},
               "axis": {"title": null, "labels": false, "tickCount": 30, "values": [{"year":2018,"month":1,"date":28,"hours":12},{"year":2018,"month":1,"date":29,"hours":0},{"year":2018,"month":1,"date":29,"hours":12},{"year":2018,"month":1,"date":30,"hours":0},{"year":2018,"month":1,"date":30,"hours":12},{"year":2018,"month":1,"date":31,"hours":0},{"year":2018,"month":1,"date":31,"hours":12},{"year":2018,"month":2,"date":1,"hours":0},{"year":2018,"month":2,"date":1,"hours":12},{"year":2018,"month":2,"date":2,"hours":0}]}},
         "x2": {"field": "b"},
         "fill": {"field": "k", "type": "nominal", "scale": {"domain": ["y","c"], "range": ["#f0f048","#c4eef7"]}, "legend": null}}},
       {"data": {"values": [{}]}, "mark": {"type": "rule", "color": "#333", "strokeWidth": 1},
        "encoding": {"y": {"datum": 8, "type": "quantitative", "axis": null}}},
       {"data": {"name": "eqR"}, "mark": {"type": "line", "strokeWidth": 1.3, "point": {"filled": true, "size": 10}},
        "encoding": {
         "x": {"field": "t", "type": "temporal"},
         "y": {"field": "Org", "type": "quantitative", "scale": {"domain": [0,8], "nice": false}, "axis": null},
         "color": {"datum": "Organics", "type": "nominal",
          "scale": {"domain": ["Organics","Sulfate","f44","f43"], "range": ["#22a022","#ec1e1e","#4a5a1a","#3a18c8"]}, "legend": null}}},
       {"data": {"name": "eqR"}, "mark": {"type": "line", "strokeWidth": 2, "point": {"filled": true, "size": 14}},
        "encoding": {"x": {"field": "t", "type": "temporal"}, "y": {"field": "Sul", "type": "quantitative", "axis": null}, "color": {"datum": "Sulfate", "type": "nominal", "legend": null}}}
      ]},
      {"layer": [
       {"data": {"name": "eqR"}, "mark": {"type": "line", "strokeWidth": 0.8, "color": "#7ccccc"},
        "encoding": {
         "x": {"field": "t", "type": "temporal"},
         "y": {"field": "f44", "type": "quantitative", "scale": {"domain": [0,0.8], "nice": false},
               "axis": {"orient": "right", "title": "f44", "titleAngle": 0, "titleX": 6, "titleY": -7, "titleAlign": "center", "titleBaseline": "bottom", "titleColor": "#8b1a3a", "titleFontSize": 9, "values": [0,0.2,0.4,0.6,0.8], "tickCount": 30, "format": ".1f"}}}},
       {"data": {"name": "eqR"}, "mark": {"type": "point", "filled": true, "size": 14, "opacity": 1},
        "encoding": {"x": {"field": "t", "type": "temporal"}, "y": {"field": "f44", "type": "quantitative"}, "color": {"datum": "f44", "type": "nominal", "legend": null}}}
      ]},
      {"data": {"name": "eqR"}, "mark": {"type": "line", "strokeWidth": 1.5, "point": {"filled": true, "size": 10}},
       "encoding": {
        "x": {"field": "t", "type": "temporal"},
        "y": {"field": "f43", "type": "quantitative", "scale": {"domain": [0,0.08], "nice": false},
              "axis": {"orient": "right", "offset": 26, "title": null, "labels": false, "tickSize": 2, "domainColor": "#9a7ae8", "tickColor": "#9a7ae8", "values": [0,0.02,0.04,0.06,0.08], "tickCount": 30}},
        "color": {"datum": "f43", "type": "nominal", "legend": null}}}
     ],
     "resolve": {"scale": {"y": "independent"}}
    }
   ]},
  {"bounds": "flush", "spacing": 2,
   "resolve": {"scale": {"color": "independent"}, "legend": {"color": "independent"}},
   "hconcat": [
    {"width": 194, "height": 180,
     "layer": [
      {"layer": [
       {"data": {"name": "bandsCL"}, "mark": {"type": "rect"},
        "encoding": {
         "x": {"field": "a", "type": "temporal",
               "scale": {"domain": [{"year":2018,"month":1,"date":22,"hours":21,"minutes":12},{"year":2018,"month":1,"date":25,"hours":1,"minutes":12}], "nice": false},
               "axis": {"title": null, "format": "%y%m%d %H:%M", "labelAngle": -45, "labelFlush": false, "tickCount": 30,
                        "values": [{"year":2018,"month":1,"date":22,"hours":22},{"year":2018,"month":1,"date":23,"hours":10},{"year":2018,"month":1,"date":23,"hours":22},{"year":2018,"month":1,"date":24,"hours":10},{"year":2018,"month":1,"date":24,"hours":22}]}},
         "x2": {"field": "b"},
         "fill": {"field": "k", "type": "nominal", "scale": {"domain": ["y","c"], "range": ["#f0f048","#c4eef7"]}, "legend": null}}},
       {"data": {"values": [{}]}, "mark": {"type": "rule", "color": "#333", "strokeWidth": 1},
        "encoding": {"y": {"datum": 18000, "type": "quantitative"}}},
       {"data": {"name": "eqL"}, "mark": {"type": "line", "strokeWidth": 1.5, "point": {"filled": true, "size": 16}},
        "encoding": {
         "x": {"field": "t", "type": "temporal"},
         "y": {"field": "Nt", "type": "quantitative", "scale": {"domain": [0,18000], "nice": false},
               "axis": {"title": "Number Concentration (cm⁻³)", "values": [0,3000,6000,9000,12000,15000,18000], "tickCount": 30, "labelExpr": "datum.value == 0 ? '0.0' : (datum.value >= 10000 ? format(datum.value/10000, '.1f') + 'x10⁴' : format(datum.value/1000, '.1f') + 'x10³')"}},
         "color": {"datum": "Nₜₒₜₐₗ", "type": "nominal",
          "scale": {"domain": ["Nₜₒₜₐₗ","NCN","Tc"], "range": ["#111111","#e81e1e","#5a5ae8"]}, "legend": null}}},
       {"data": {"name": "eqL"}, "mark": {"type": "line", "strokeWidth": 1.2, "point": {"filled": true, "size": 10}},
        "encoding": {"x": {"field": "t", "type": "temporal"}, "y": {"field": "Ncn", "type": "quantitative"}, "color": {"datum": "NCN", "type": "nominal", "legend": null}}},
       {"data": {"values": [{}]}, "mark": {"type": "text", "align": "left", "baseline": "middle", "font": "Liberation Serif", "fontWeight": "bold", "fontStyle": "italic", "fontSize": 10, "color": "#222"},
        "encoding": {"x": {"datum": {"year":2018,"month":1,"date":22,"hours":22,"minutes":0}, "type": "temporal"}, "y": {"datum": 17000, "type": "quantitative"}, "text": {"value": "(d)"}}},
       {"data": {"values": [{}]}, "mark": {"type": "text", "align": "center", "baseline": "middle", "fontSize": 9, "color": "#444"},
        "encoding": {"x": {"datum": {"year":2018,"month":1,"date":25,"hours":1,"minutes":40}, "type": "temporal"}, "y": {"datum": 18000, "type": "quantitative"}, "text": {"value": "//"}}},
       {"data": {"values": [{}]}, "mark": {"type": "text", "align": "center", "baseline": "middle", "fontSize": 9, "color": "#444"},
        "encoding": {"x": {"datum": {"year":2018,"month":1,"date":25,"hours":1,"minutes":40}, "type": "temporal"}, "y": {"datum": 0, "type": "quantitative"}, "text": {"value": "//"}}}
      ]},
      {"layer": [
       {"data": {"values": [{}]}, "mark": {"type": "rule", "color": "#8a8aa8", "strokeWidth": 0.8},
        "encoding": {"y": {"datum": 0, "type": "quantitative", "scale": {"domain": [-0.6,0.6], "nice": false, "zero": false}, "axis": null}}},
       {"data": {"name": "eqL"}, "mark": {"type": "line", "strokeWidth": 1, "point": {"filled": true, "size": 5}},
        "encoding": {"x": {"field": "t", "type": "temporal"}, "y": {"field": "Tc", "type": "quantitative", "axis": null}, "color": {"datum": "Tc", "type": "nominal", "legend": null}}}
      ]}
     ],
     "resolve": {"scale": {"y": "independent"}}
    },
    {"width": 189, "height": 180,
     "layer": [
      {"layer": [
       {"data": {"name": "bandsCR"}, "mark": {"type": "rect"},
        "encoding": {
         "x": {"field": "a", "type": "temporal",
               "scale": {"domain": [{"year":2018,"month":1,"date":28,"hours":11,"minutes":20},{"year":2018,"month":2,"date":2,"hours":6,"minutes":0}], "nice": false},
               "axis": {"title": "Date and Time (yymmdd hh:mm)", "titleFontSize": 11, "titleX": -4, "titleAlign": "center", "format": "%y%m%d %H:%M", "labelAngle": -45, "labelFlush": false, "tickCount": 30,
                        "values": [{"year":2018,"month":1,"date":28,"hours":12},{"year":2018,"month":1,"date":29,"hours":0},{"year":2018,"month":1,"date":29,"hours":12},{"year":2018,"month":1,"date":30,"hours":0},{"year":2018,"month":1,"date":30,"hours":12},{"year":2018,"month":1,"date":31,"hours":0},{"year":2018,"month":1,"date":31,"hours":12},{"year":2018,"month":2,"date":1,"hours":0},{"year":2018,"month":2,"date":1,"hours":12},{"year":2018,"month":2,"date":2,"hours":0}]}},
         "x2": {"field": "b"},
         "fill": {"field": "k", "type": "nominal", "scale": {"domain": ["y","c"], "range": ["#f0f048","#c4eef7"]}, "legend": null}}},
       {"data": {"values": [{}]}, "mark": {"type": "rule", "color": "#333", "strokeWidth": 1},
        "encoding": {"y": {"datum": 18000, "type": "quantitative", "axis": null}}},
       {"data": {"name": "eqR"}, "mark": {"type": "line", "strokeWidth": 1.5, "point": {"filled": true, "size": 16}},
        "encoding": {
         "x": {"field": "t", "type": "temporal"},
         "y": {"field": "Nt", "type": "quantitative", "scale": {"domain": [0,18000], "nice": false}, "axis": null},
         "color": {"datum": "Nₜₒₜₐₗ", "type": "nominal",
          "scale": {"domain": ["Nₜₒₜₐₗ","NCN","Tc"], "range": ["#111111","#e81e1e","#5a5ae8"]},
          "legend": {"orient": "none", "legendX": 134, "legendY": 2, "rowPadding": 4,
            "labelColor": {"expr": "datum.label == 'NCN' ? '#e81e1e' : datum.label == 'Tc' ? '#3a3ad0' : '#111111'"}}}}},
       {"data": {"name": "eqR"}, "mark": {"type": "line", "strokeWidth": 1.2, "point": {"filled": true, "size": 10}},
        "encoding": {"x": {"field": "t", "type": "temporal"}, "y": {"field": "Ncn", "type": "quantitative", "axis": null}, "color": {"datum": "NCN", "type": "nominal"}}}
      ]},
      {"layer": [
       {"data": {"values": [{}]}, "mark": {"type": "rule", "color": "#8a8aa8", "strokeWidth": 0.8},
        "encoding": {"y": {"datum": 0, "type": "quantitative", "scale": {"domain": [-0.6,0.6], "nice": false, "zero": false},
          "axis": {"orient": "right", "title": null, "labelColor": "#3a3ad0", "tickColor": "#3a3ad0", "values": [-0.6,-0.4,-0.2,0,0.2,0.4,0.6], "tickCount": 30, "format": ".1f"}}}},
       {"data": {"name": "eqR"}, "mark": {"type": "line", "strokeWidth": 1, "point": {"filled": true, "size": 5}},
        "encoding": {"x": {"field": "t", "type": "temporal"}, "y": {"field": "Tc", "type": "quantitative"}, "color": {"datum": "Tc", "type": "nominal"}}}
      ]}
     ],
     "resolve": {"scale": {"y": "independent"}}
    }
   ]}
 ], "spacing": 11, "resolve": {"scale": {"color": "independent"}, "legend": {"color": "independent"}}}
]
}
